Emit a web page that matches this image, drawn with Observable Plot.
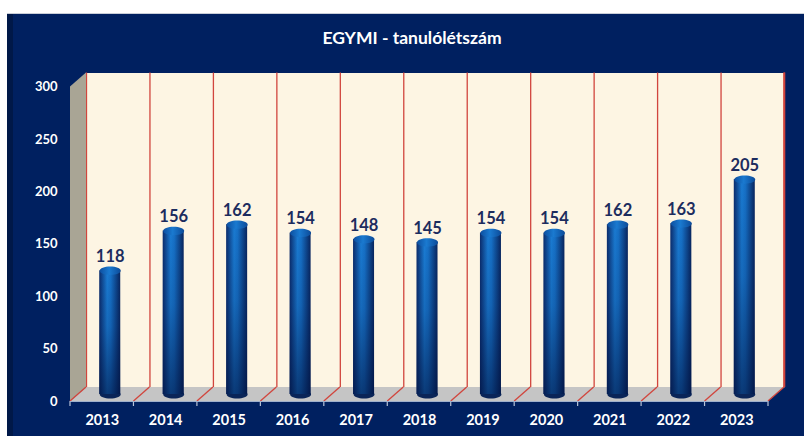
<!DOCTYPE html>
<html><head><meta charset="utf-8">
<script src="https://cdn.jsdelivr.net/npm/d3@7"></script>
<script src="https://cdn.jsdelivr.net/npm/@observablehq/plot@0.6"></script>
<style>html,body{margin:0;padding:0;background:#fff;} svg{display:block}</style>
</head><body><div id="chart"></div>
<script>
const years = ["2013","2014","2015","2016","2017","2018","2019","2020","2021","2022","2023"];
const students = [118,156,162,154,148,145,154,154,162,163,205];
const yTicks = [0,50,100,150,200,250,300];
const chartTitle = "EGYMI - tanulólétszám";

const data = years.map((y, i) => ({year: y, value: students[i]}));

const W = 804, H = 439;
const DX = 8, DY = 7;
const mL = 78, mR = 28, mT = 79.5, mB = 45;
const bw = (W - mL - mR) / years.length;
const barW = 21;
const inset = (bw - barW) / 2;
const FONT = "Lato, 'Open Sans', sans-serif";
const NAVY = "#002060";

function ellipse(rx, ry) {
  return {draw(ctx) {
    const k = 0.5523;
    ctx.moveTo(-rx, 0);
    ctx.bezierCurveTo(-rx, -ry*k, -rx*k, -ry, 0, -ry);
    ctx.bezierCurveTo(rx*k, -ry, rx, -ry*k, rx, 0);
    ctx.bezierCurveTo(rx, ry*k, rx*k, ry, 0, ry);
    ctx.bezierCurveTo(-rx*k, ry, -rx, ry*k, -rx, 0);
    ctx.closePath();
  }};
}

const plot = Plot.plot({
  width: W, height: H,
  marginLeft: mL, marginRight: mR, marginTop: mT, marginBottom: mB,
  style: {background: "transparent", fontFamily: FONT, overflow: "visible"},
  x: {type: "band", domain: years, padding: 0, round: false, axis: null, label: null},
  y: {domain: [0, 300], axis: null, label: null},
  marks: [
    Plot.frame({fill: "#fdf5e3", stroke: null, dx: DX, dy: -DY}),
    Plot.ruleX(years, {x: d => d, y1: 0, y2: 300, dx: DX - bw/2, dy: -DY, stroke: "#d1453d", strokeWidth: 1.3}),
    Plot.ruleX([years[years.length-1]], {x: d => d, y1: 0, y2: 300, dx: DX + bw/2, dy: -DY, stroke: "#d1453d", strokeWidth: 1.6}),
    Plot.dot(data, {x: "year", y: () => 0, symbol: ellipse(barW/2, 4), r: 4, fill: "#0a2558", stroke: null}),
    Plot.barY(data, {x: "year", y: "value", insetLeft: inset, insetRight: inset, fill: "url(#cylH)"}),
    Plot.barY(data, {x: "year", y: "value", insetLeft: inset, insetRight: inset, fill: "url(#cylV)"}),
    Plot.dot(data, {x: "year", y: "value", symbol: ellipse(barW/2, 4.2), r: 4, fill: "url(#cylTop)", stroke: null}),
    Plot.text(data, {x: "year", y: "value", text: d => String(d.value), dy: -14, fill: "#1c2c5e", fontWeight: "bold", fontSize: 16.5}),
    Plot.axisY(yTicks, {anchor: "left", tickSize: 0, tickPadding: 21, dy: DY, color: "white", fontWeight: "bold", fontSize: 13, fontFamily: FONT, label: null}),
    Plot.axisX({anchor: "bottom", tickSize: 0, tickPadding: 13, dx: -DX, dy: DY, color: "white", fontWeight: "bold", fontSize: 14.5, fontFamily: FONT, label: null}),
    Plot.text([chartTitle], {frameAnchor: "top", lineAnchor: "middle", dy: -(mT - 38), dx: 411.5 - (mL + (W - mL - mR)/2), fill: "white", fontWeight: "bold", fontSize: 17.5})
  ]
});

const svg = d3.select(plot);
const defs = svg.insert("defs", ":first-child");
const gh = defs.append("linearGradient").attr("id", "cylH").attr("x1", 0).attr("x2", 1).attr("y1", 0).attr("y2", 0);
[[0, "#0b2c6c"], [0.38, "#1a7bd2"], [0.55, "#1670c6"], [1, "#08255e"]].forEach(([o, c]) => gh.append("stop").attr("offset", o).attr("stop-color", c));
const gv = defs.append("linearGradient").attr("id", "cylV").attr("x1", 0).attr("x2", 0).attr("y1", 0).attr("y2", 1);
[[0, "#001040", 0], [0.45, "#001040", 0.15], [1, "#00103c", 0.6]].forEach(([o, c, a]) => gv.append("stop").attr("offset", o).attr("stop-color", c).attr("stop-opacity", a));
const gt = defs.append("linearGradient").attr("id", "cylTop").attr("x1", 0).attr("x2", 1).attr("y1", 0).attr("y2", 0);
[[0, "#0d4fa0"], [0.45, "#1a7ad0"], [1, "#0c4a98"]].forEach(([o, c]) => gt.append("stop").attr("offset", o).attr("stop-color", c));

const sx = plot.scale("x"), sy = plot.scale("y");
const xs = sx.apply(years[0]);
const xe = sx.apply(years[years.length-1]) + bw;
const y0 = sy.apply(0), yT = sy.apply(300);

// background panel
const bg = svg.insert("g", "defs + *");
bg.append("rect").attr("x", 7).attr("y", 13).attr("width", W - 7).attr("height", 423).attr("fill", NAVY);
bg.append("rect").attr("x", 7).attr("y", 13).attr("width", 6).attr("height", 423).attr("fill", "#001848");
bg.append("line").attr("x1", 7).attr("x2", W).attr("y1", 13.5).attr("y2", 13.5).attr("stroke", "#c9ced8");

// side wall, floor, floor lines — before the bars
const firstBar = plot.querySelector('g[aria-label="dot"]');
const deco = d3.select(plot.insertBefore(document.createElementNS("http://www.w3.org/2000/svg", "g"), firstBar));
deco.append("path").attr("d", `M${xs-DX},${y0+DY}L${xs-DX},${yT+DY}L${xs+DX},${yT-DY}L${xs+DX},${y0-DY}Z`).attr("fill", "#a9a595");
deco.append("path").attr("d", `M${xs-DX},${y0+DY}L${xe-DX},${y0+DY}L${xe+DX},${y0-DY}L${xs+DX},${y0-DY}Z`).attr("fill", "#c5c5c5");
for (let i = 0; i <= years.length; i++) {
  const xb = xs + i * bw;
  deco.append("line").attr("x1", xb - DX).attr("y1", y0 + DY).attr("x2", xb + DX).attr("y2", y0 - DY).attr("stroke", "#d1453d").attr("stroke-width", 1.3);
  deco.append("line").attr("x1", xb - DX).attr("y1", y0 + DY).attr("x2", xb - DX).attr("y2", y0 + DY + 5).attr("stroke", "#b8c4d8").attr("stroke-width", 1.2);
}
deco.append("line").attr("x1", xe + DX).attr("y1", y0 - DY).attr("x2", xe + DX).attr("y2", yT - DY).attr("stroke", "#d1453d").attr("stroke-width", 1.6);
deco.append("line").attr("x1", xs - DX).attr("y1", y0 + DY + 0.5).attr("x2", xe - DX).attr("y2", y0 + DY + 0.5).attr("stroke", "#9fb0cc").attr("stroke-width", 1);

document.getElementById("chart").appendChild(plot);
</script>
</body></html>
